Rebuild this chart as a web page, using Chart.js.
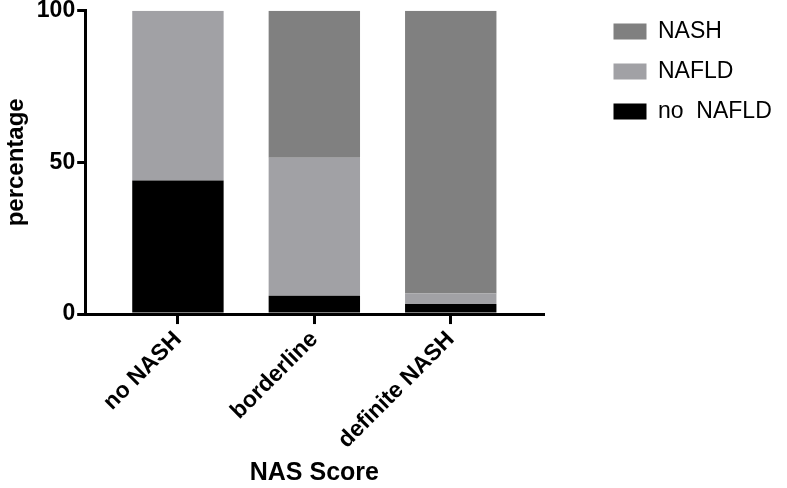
<!DOCTYPE html>
<html>
<head>
<meta charset="utf-8">
<script src="https://cdn.jsdelivr.net/npm/chart.js@4.4.1/dist/chart.umd.min.js"></script>
<style>
html,body{margin:0;padding:0;background:#fff}
#wrap{width:787px;height:488px;position:relative}
</style>
</head>
<body>
<div id="wrap"><canvas id="grafica"></canvas></div>
<script>
// categorias del eje x
const categorias = ["no NASH", "borderline", "definite NASH"]

// porcentajes por grupo (de abajo hacia arriba)
const noNafld = [44, 6, 3.3]
const nafld = [56, 45.5, 3.5]
const nash = [0, 48.5, 93.2]

const ticksY = [0, 50, 100]

const fuente = "'Liberation Sans', Arial, Helvetica, sans-serif"

function puntos(arr){
return arr.map((v,i)=>({x:i,y:v}))
}

// mueve la leyenda un poco a la derecha, separada del grafico
const moverLeyenda = {
id:"moverLeyenda",
afterLayout(chart){
const l = chart.legend
if(!l) return
l.left += 53
l.right += 53
l.top += 3
l.bottom += 3
}
}

new Chart(document.getElementById("grafica"),{

type:"bar",

data:{
datasets:[
{label:"no  NAFLD",data:puntos(noNafld),backgroundColor:"#000000"},
{label:"NAFLD",data:puntos(nafld),backgroundColor:"#a1a1a5"},
{label:"NASH",data:puntos(nash),backgroundColor:"#808080"}
]
},

plugins:[moverLeyenda],

options:{
responsive:true,
maintainAspectRatio:false,
animation:false,
datasets:{bar:{categoryPercentage:1,barPercentage:0.67,borderWidth:0}},
layout:{padding:{top:0,right:63,bottom:0,left:2}},
plugins:{
tooltip:{enabled:false},
legend:{
position:"right",
align:"start",
reverse:true,
labels:{
boxWidth:33,
boxHeight:16,
padding:17,
color:"#000",
font:{family:fuente,size:23}
}
}
},
scales:{
x:{
type:"linear",
stacked:true,
offset:false,
min:-0.68,
max:2.68,
afterBuildTicks:(s)=>{ s.ticks = categorias.map((c,i)=>({value:i})) },
ticks:{
color:"#000",
autoSkip:false,
maxRotation:45,
minRotation:45,
padding:2,
font:{family:fuente,size:23,weight:"bold"},
callback:(v)=>categorias[v]
},
grid:{display:true,offset:false,drawOnChartArea:false,drawTicks:true,tickLength:10,lineWidth:3,color:"#000"},
border:{display:true,width:3,color:"#000"},
title:{display:true,text:"NAS Score",color:"#000",font:{family:fuente,size:25,weight:"bold"},padding:{top:2,bottom:0}}
},
y:{
stacked:true,
min:0,
max:100,
afterBuildTicks:(s)=>{ s.ticks = ticksY.map(v=>({value:v})) },
ticks:{
color:"#000",
padding:2,
font:{family:fuente,size:23,weight:"bold",lineHeight:0.75}
},
grid:{display:true,drawOnChartArea:false,drawTicks:true,tickLength:8,lineWidth:3,color:"#000"},
border:{display:true,width:3,color:"#000"},
title:{display:true,text:"percentage",color:"#000",font:{family:fuente,size:24,weight:"bold"},padding:{top:0,bottom:4}}
}
}
}

})
</script>
</body>
</html>
